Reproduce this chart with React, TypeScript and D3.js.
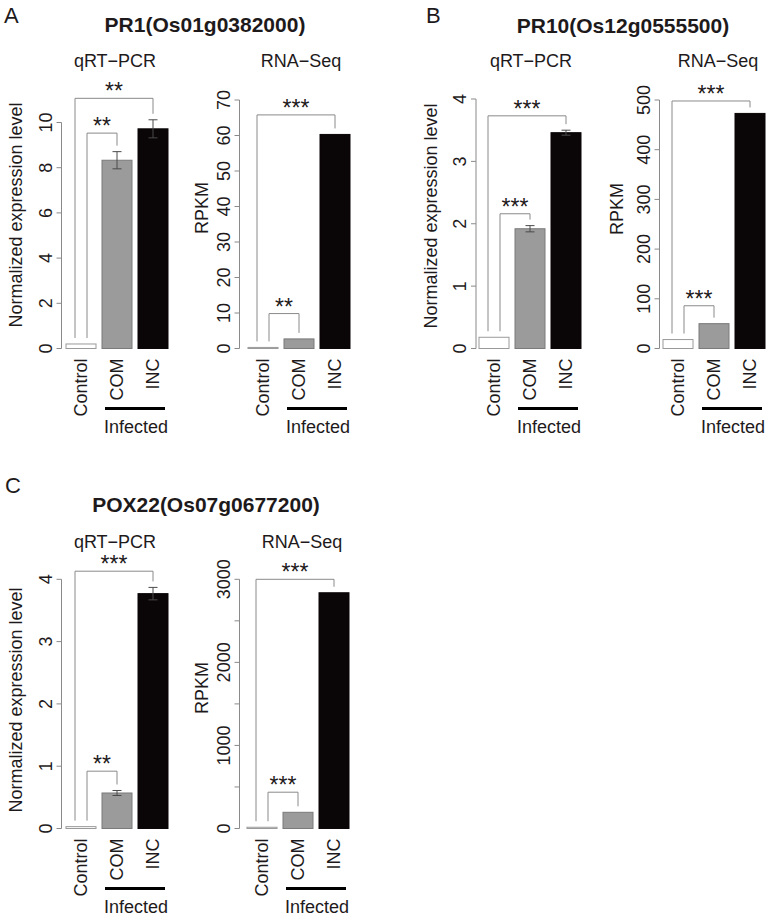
import React from "react";
import * as d3 from "d3";

// ---------- DATA ----------
const categories = ["Control", "COM", "INC"];
const groupLabel = "Infected";

const pr1Qrt = [0.2, 8.33, 9.72];
const pr1QrtErr = [0, 0.38, 0.4];
const pr1Rna = [0.3, 2.7, 60.3];

const pr10Qrt = [0.18, 1.92, 3.46];
const pr10QrtErr = [0, 0.05, 0.04];
const pr10Rna = [18, 50, 473];

const pox22Qrt = [0.03, 0.57, 3.77];
const pox22QrtErr = [0, 0.04, 0.1];
const pox22Rna = [15, 195, 2838];

const pr1QrtTicks = [0, 2, 4, 6, 8, 10];
const pr1RnaTicks = [0, 10, 20, 30, 40, 50, 60, 70];
const pr10QrtTicks = [0, 1, 2, 3, 4];
const pr10RnaTicks = [0, 100, 200, 300, 400, 500];
const pox22QrtTicks = [0, 1, 2, 3, 4];
const pox22RnaTicks = [0, 500, 1000, 1500, 2000, 2500, 3000];
const pox22RnaTickLabels = ["0", "", "1000", "", "2000", "", "3000"];

// significance brackets: target category index, bracket level (data units), label
const pr1QrtSig = [{ to: 2, level: 11.07, label: "**" }, { to: 1, level: 9.53, label: "**" }];
const pr1RnaSig = [{ to: 2, level: 65.8, label: "***" }, { to: 1, level: 9.84, label: "**" }];
const pr10QrtSig = [{ to: 2, level: 3.73, label: "***" }, { to: 1, level: 2.16, label: "***" }];
const pr10RnaSig = [{ to: 2, level: 498, label: "***" }, { to: 1, level: 86, label: "***" }];
const pox22QrtSig = [{ to: 2, level: 4.13, label: "***" }, { to: 1, level: 0.92, label: "**" }];
const pox22RnaSig = [{ to: 2, level: 3000, label: "***" }, { to: 1, level: 437, label: "***" }];

const panelLetters = ["A", "B", "C"];
const geneTitles = ["PR1(Os01g0382000)", "PR10(Os12g0555500)", "POX22(Os07g0677200)"];
const methodTitles = ["qRT\u2212PCR", "RNA\u2212Seq"];
const yTitles = ["Normalized expression level", "RPKM"];

// ---------- STYLE ----------
const FONT = "'Liberation Sans', Arial, Helvetica, sans-serif";
const TEXT = "#1e1a1b";
const AXIS = "#8a8a8a";
const FILLS = ["#ffffff", "#9b9b9b", "#0a0506"];
const STROKES = ["#9a9a9a", "#7a7a7a", "#0a0506"];

type SubProps = {
  values: number[];
  errs?: number[];
  ticks: number[];
  tickLabels?: string[];
  sig: { to: number; level: number; label: string }[];
  axisX: number;
  barX0: number;
  y0: number;
  yTopPx: number;
  yTitle: string;
  yTitleX: number;
  yTitleY: number;
  subTitle: string;
  subTitleX: number;
  subTitleY: number;
};

function Subplot(p: SubProps) {
  const maxTick = p.ticks[p.ticks.length - 1];
  const y = d3.scaleLinear().domain([0, maxTick]).range([p.y0, p.yTopPx]);
  const x = d3
    .scaleBand<string>()
    .domain(categories)
    .range([p.barX0, p.barX0 + 102])
    .paddingInner(6 / 36)
    .paddingOuter(0);
  const bw = x.bandwidth();
  const cx = (i: number) => (x(categories[i]) as number) + bw / 2;
  const errs = p.errs || [0, 0, 0];
  const topOf = (i: number) => y(p.values[i] + errs[i]);
  const ctrlLegEnd = topOf(0) - 6;

  return (
    <g>
      <text x={p.subTitleX} y={p.subTitleY} textAnchor="middle" fontSize={18} fill={TEXT} fontFamily={FONT}>
        {p.subTitle}
      </text>
      <text
        transform={`translate(${p.yTitleX},${p.yTitleY}) rotate(-90)`}
        textAnchor="middle"
        fontSize={18}
        fill={TEXT}
        fontFamily={FONT}
      >
        {p.yTitle}
      </text>
      <line x1={p.axisX} x2={p.axisX} y1={y(0)} y2={y(maxTick)} stroke={AXIS} strokeWidth={1} />
      {p.ticks.map((t, i) => (
        <g key={"t" + i}>
          <line x1={p.axisX - 5} x2={p.axisX} y1={y(t)} y2={y(t)} stroke={AXIS} strokeWidth={1} />
          <text
            transform={`translate(${p.axisX - 10},${y(t)}) rotate(-90)`}
            textAnchor="middle"
            fontSize={18}
            fill={TEXT}
            fontFamily={FONT}
          >
            {p.tickLabels ? p.tickLabels[i] : String(t)}
          </text>
        </g>
      ))}
      {p.values.map((v, i) => (
        <rect
          key={"b" + i}
          x={x(categories[i])}
          y={y(v)}
          width={bw}
          height={Math.max(0.5, y(0) - y(v))}
          fill={FILLS[i]}
          stroke={STROKES[i]}
          strokeWidth={1}
        />
      ))}
      {p.values.map((v, i) =>
        errs[i] > 0 ? (
          <g key={"e" + i} stroke="#4a4a4a" strokeWidth={1}>
            <line x1={cx(i)} x2={cx(i)} y1={y(v - errs[i])} y2={y(v + errs[i])} />
            <line x1={cx(i) - 4.5} x2={cx(i) + 4.5} y1={y(v - errs[i])} y2={y(v - errs[i])} />
            <line x1={cx(i) - 4.5} x2={cx(i) + 4.5} y1={y(v + errs[i])} y2={y(v + errs[i])} />
          </g>
        ) : null
      )}
      {p.sig.map((s, k) => {
        const lx = cx(0) + (s.to === 2 ? -6 : 6);
        const rx = cx(s.to);
        const by = y(s.level);
        const rEnd = topOf(s.to) - 6;
        return (
          <g key={"s" + k}>
            <path
              d={`M${lx},${ctrlLegEnd}V${by}H${rx}V${rEnd}`}
              fill="none"
              stroke={AXIS}
              strokeWidth={1}
            />
            <text x={(lx + rx) / 2} y={by + 1} textAnchor="middle" fontSize={23} fill={TEXT} fontFamily={FONT}>
              {s.label}
            </text>
          </g>
        );
      })}
      {categories.map((c, i) => (
        <text
          key={"c" + i}
          transform={`translate(${cx(i)},${p.y0 + 10}) rotate(-90)`}
          textAnchor="end"
          dy="0.35em"
          fontSize={18}
          fill={TEXT}
          fontFamily={FONT}
        >
          {c}
        </text>
      ))}
      <line
        x1={(x("COM") as number) + 3}
        x2={(x("INC") as number) + bw - 3}
        y1={p.y0 + 60}
        y2={p.y0 + 60}
        stroke="#000"
        strokeWidth={3}
      />
      <text
        x={((x("COM") as number) + (x("INC") as number) + bw) / 2 + 1}
        y={p.y0 + 84}
        textAnchor="middle"
        fontSize={18}
        fill={TEXT}
        fontFamily={FONT}
      >
        {groupLabel}
      </text>
    </g>
  );
}

function PanelHeader(props: { letter: string; lx: number; ly: number; title: string; tx: number; ty: number }) {
  return (
    <g>
      <text x={props.lx} y={props.ly} fontSize={22} fill={TEXT} fontFamily={FONT}>
        {props.letter}
      </text>
      <text x={props.tx} y={props.ty} textAnchor="middle" fontSize={21} fontWeight="bold" fill={TEXT} fontFamily={FONT}>
        {props.title}
      </text>
    </g>
  );
}

export default function App() {
  return (
    <svg
      width={770}
      height={919}
      viewBox="0 0 770 919"
      style={{ position: "absolute", left: 0, top: 0, background: "#fff" }}
    >
      <rect width={770} height={919} fill="#fff" />
      <PanelHeader letter={panelLetters[0]} lx={4} ly={23} title={geneTitles[0]} tx={205} ty={32} />
      <Subplot
        values={pr1Qrt}
        errs={pr1QrtErr}
        ticks={pr1QrtTicks}
        sig={pr1QrtSig}
        axisX={61.5}
        barX0={66}
        y0={348.5}
        yTopPx={122.5}
        yTitle={yTitles[0]}
        yTitleX={22}
        yTitleY={215}
        subTitle={methodTitles[0]}
        subTitleX={115}
        subTitleY={67}
      />
      <Subplot
        values={pr1Rna}
        ticks={pr1RnaTicks}
        sig={pr1RnaSig}
        axisX={239.5}
        barX0={248}
        y0={348.5}
        yTopPx={100}
        yTitle={yTitles[1]}
        yTitleX={208}
        yTitleY={208}
        subTitle={methodTitles[1]}
        subTitleX={301}
        subTitleY={67}
      />
      <PanelHeader letter={panelLetters[1]} lx={426} ly={23} title={geneTitles[1]} tx={623} ty={33} />
      <Subplot
        values={pr10Qrt}
        errs={pr10QrtErr}
        ticks={pr10QrtTicks}
        sig={pr10QrtSig}
        axisX={476}
        barX0={479}
        y0={348.5}
        yTopPx={99}
        yTitle={yTitles[0]}
        yTitleX={437}
        yTitleY={216}
        subTitle={methodTitles[0]}
        subTitleX={531}
        subTitleY={67}
      />
      <Subplot
        values={pr10Rna}
        ticks={pr10RnaTicks}
        sig={pr10RnaSig}
        axisX={659.5}
        barX0={663}
        y0={348.5}
        yTopPx={100}
        yTitle={yTitles[1]}
        yTitleX={623}
        yTitleY={209}
        subTitle={methodTitles[1]}
        subTitleX={718}
        subTitleY={67}
      />
      <PanelHeader letter={panelLetters[2]} lx={5} ly={493} title={geneTitles[2]} tx={206} ty={512} />
      <Subplot
        values={pox22Qrt}
        errs={pox22QrtErr}
        ticks={pox22QrtTicks}
        sig={pox22QrtSig}
        axisX={61.5}
        barX0={66}
        y0={828.5}
        yTopPx={579.3}
        yTitle={yTitles[0]}
        yTitleX={22}
        yTitleY={700}
        subTitle={methodTitles[0]}
        subTitleX={115}
        subTitleY={548}
      />
      <Subplot
        values={pox22Rna}
        ticks={pox22RnaTicks}
        tickLabels={pox22RnaTickLabels}
        sig={pox22RnaSig}
        axisX={239.5}
        barX0={247}
        y0={828.5}
        yTopPx={579.3}
        yTitle={yTitles[1]}
        yTitleX={208}
        yTitleY={688}
        subTitle={methodTitles[1]}
        subTitleX={302}
        subTitleY={548}
      />
    </svg>
  );
}
